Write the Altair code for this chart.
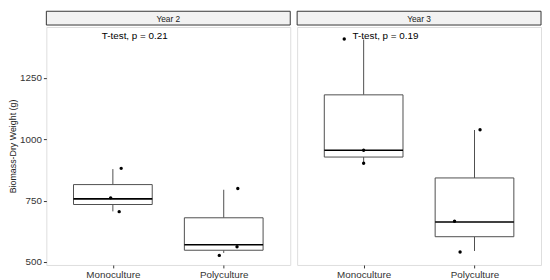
import altair as alt
import pandas as pd

# ---- data ----
years = ["Year 2", "Year 2", "Year 3", "Year 3"]
treatments = ["Monoculture", "Polyculture", "Monoculture", "Polyculture"]
whisk_low = [706, 537, 901, 545]
q1 = [734, 548, 927, 603]
median = [757, 570, 955, 663]
q3 = [815, 680, 1180, 842]
whisk_high = [878, 794, 1405, 1037]

pt_years = ["Year 2"] * 6 + ["Year 3"] * 6
pt_treat = ["Monoculture"] * 3 + ["Polyculture"] * 3 + ["Monoculture"] * 3 + ["Polyculture"] * 3
pt_values = [881, 761, 705, 799, 562, 527, 1407, 955, 902, 1038, 666, 541]
pt_jitter = [0.075, -0.02, 0.057, 0.127, 0.12, -0.04, -0.175, 0.0, 0.0, 0.05, -0.18, -0.13]

test_years = ["Year 2", "Year 3"]
test_labels = ["T-test, p = 0.21", "T-test, p = 0.19"]

y_ticks = [500, 750, 1000, 1250]

box_df = pd.DataFrame({"year": years, "treatment": treatments, "lo": whisk_low,
                       "q1": q1, "med": median, "q3": q3, "hi": whisk_high})
pt_df = pd.DataFrame({"year": pt_years, "treatment": pt_treat, "value": pt_values, "jit": pt_jitter})
txt_df = pd.DataFrame({"year": test_years, "label": test_labels})

FONT = "Liberation Sans"
W, H, STRIP = 248, 242, 14
HALF = 0.355
xscale = alt.Scale(domain=[0.4, 2.6], nice=False, zero=False)
yscale = alt.Scale(domain=[488, 1456], nice=False, zero=False)
POS = "datum.treatment == 'Monoculture' ? 1 : 2"


def panel(year, show_y):
    xax = alt.Axis(values=[1, 2], labelExpr="datum.value == 1 ? 'Monoculture' : 'Polyculture'",
                   grid=False, domain=False, tickSize=3, tickColor="#333", labelColor="#333",
                   labelFont=FONT, labelFontSize=10, labelPadding=2, title=None)
    if show_y:
        yax = alt.Axis(values=y_ticks, format="d", grid=False, domain=False, tickSize=3,
                       tickColor="#333", labelColor="#333", labelFont=FONT, labelFontSize=10,
                       labelPadding=2, title="Biomass-Dry Weight (g)", titleFont=FONT,
                       titleFontSize=9, titleFontWeight="normal", titleColor="#222",
                       titlePadding=2)
    else:
        yax = None
    bb = alt.Chart(box_df).transform_filter(alt.datum.year == year).transform_calculate(
        pos=POS).transform_calculate(xl=f"datum.pos - {HALF}", xr=f"datum.pos + {HALF}")
    whisk1 = bb.mark_rule(color="#4d4d4d", strokeWidth=1).encode(
        x=alt.X("pos:Q", scale=xscale, axis=xax),
        y=alt.Y("lo:Q", scale=yscale, axis=yax), y2="q1:Q")
    whisk2 = bb.mark_rule(color="#4d4d4d", strokeWidth=1).encode(
        x=alt.X("pos:Q", scale=xscale), y=alt.Y("q3:Q", scale=yscale), y2="hi:Q")
    box = bb.mark_rect(fill="white", stroke="#4d4d4d", strokeWidth=1).encode(
        x=alt.X("xl:Q", scale=xscale), x2="xr:Q",
        y=alt.Y("q1:Q", scale=yscale), y2="q3:Q")
    med = bb.mark_rule(color="black", strokeWidth=1.6).encode(
        x=alt.X("xl:Q", scale=xscale), x2="xr:Q", y=alt.Y("med:Q", scale=yscale))
    pts = alt.Chart(pt_df).transform_filter(alt.datum.year == year).transform_calculate(
        px=f"({POS}) + datum.jit").mark_circle(size=12, color="black", opacity=1).encode(
        x=alt.X("px:Q", scale=xscale), y=alt.Y("value:Q", scale=yscale))
    txt = alt.Chart(txt_df).transform_filter(alt.datum.year == year).transform_calculate(
        tx="0.9", ty="1420").mark_text(
        align="left", baseline="middle", font=FONT, fontSize=10, color="black").encode(
        x=alt.X("tx:Q", scale=xscale), y=alt.Y("ty:Q", scale=yscale), text="label:N")
    plot = alt.layer(whisk1, whisk2, box, med, pts, txt).properties(width=W, height=H)

    sdf = pd.DataFrame({"year": [year]})
    srect = alt.Chart(sdf).mark_rect(fill="#F2F2F2", stroke="#333", strokeWidth=1,
                                     cornerRadius=0).encode(
        x=alt.value(0), x2=alt.value(W), y=alt.value(0), y2=alt.value(STRIP))
    stext = alt.Chart(sdf).mark_text(font=FONT, fontSize=8.5, color="#1a1a1a",
                                     baseline="middle").encode(
        x=alt.value(W / 2), y=alt.value(STRIP / 2 + 0.5), text="year:N")
    strip = alt.layer(srect, stext).properties(width=W, height=STRIP,
                                               view=alt.ViewBackground(stroke=None))
    return alt.vconcat(strip, plot, spacing=0)


chart = alt.hconcat(panel("Year 2", True), panel("Year 3", False), spacing=5).properties(
    padding={"left": 0, "top": 0, "right": 0, "bottom": 0}
).configure_view(stroke="#333", strokeWidth=1).configure(background="white")

chart.save("out.html", embed_options={"renderer": "svg", "actions": False})
